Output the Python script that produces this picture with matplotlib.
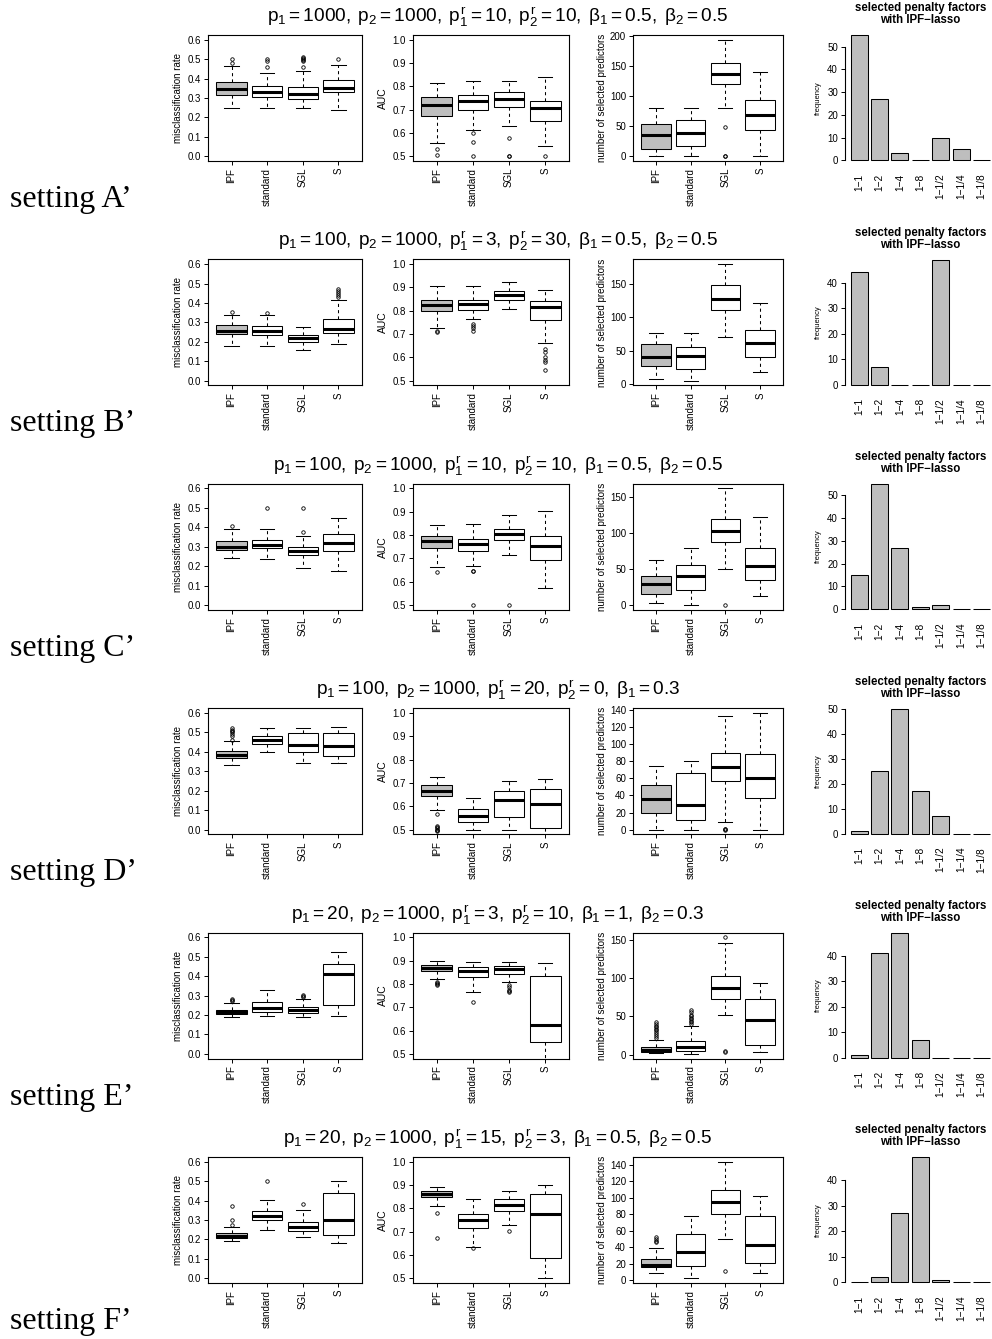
import matplotlib
matplotlib.use('Agg')
import matplotlib.pyplot as plt

plt.rcParams['font.family'] = ['Liberation Sans', 'DejaVu Sans']
plt.rcParams['mathtext.fontset'] = 'custom'
plt.rcParams['mathtext.rm'] = 'Liberation Sans'
plt.rcParams['mathtext.it'] = 'Liberation Sans'
plt.rcParams['mathtext.bf'] = 'Liberation Sans:bold'

# ---------------- data ----------------
methods = ['IPF', 'standard', 'SGL', 'S']
penalty_factors = ['1−1', '1−2', '1−4', '1−8', '1−1/2', '1−1/4', '1−1/8']
setting_names = ['A', 'B', 'C', 'D', 'E', 'F']
titles = [
    r'$p_1 = 1000,\;p_2 = 1000,\;p_1^r = 10,\;p_2^r = 10,\;\beta_1 = 0.5,\;\beta_2 = 0.5$',
    r'$p_1 = 100,\;p_2 = 1000,\;p_1^r = 3,\;p_2^r = 30,\;\beta_1 = 0.5,\;\beta_2 = 0.5$',
    r'$p_1 = 100,\;p_2 = 1000,\;p_1^r = 10,\;p_2^r = 10,\;\beta_1 = 0.5,\;\beta_2 = 0.5$',
    r'$p_1 = 100,\;p_2 = 1000,\;p_1^r = 20,\;p_2^r = 0,\;\beta_1 = 0.3$',
    r'$p_1 = 20,\;p_2 = 1000,\;p_1^r = 3,\;p_2^r = 10,\;\beta_1 = 1,\;\beta_2 = 0.3$',
    r'$p_1 = 20,\;p_2 = 1000,\;p_1^r = 15,\;p_2^r = 3,\;\beta_1 = 0.5,\;\beta_2 = 0.5$',
]

# box statistics per method: (lower whisker, Q1, median, Q3, upper whisker)
# misclassification rate
mis_A = [(0.25, 0.315, 0.345, 0.38, 0.465), (0.25, 0.305, 0.33, 0.36, 0.43),
         (0.25, 0.297, 0.32, 0.355, 0.44), (0.24, 0.33, 0.35, 0.39, 0.47)]
mis_A_out = [[0.48, 0.50], [0.46, 0.49, 0.50], [0.46, 0.49, 0.495, 0.50, 0.505, 0.51], [0.50]]
mis_B = [(0.18, 0.24, 0.255, 0.285, 0.34), (0.18, 0.235, 0.258, 0.28, 0.34),
         (0.16, 0.20, 0.218, 0.235, 0.275), (0.19, 0.245, 0.265, 0.315, 0.415)]
mis_B_out = [[0.355], [0.35], [], [0.43, 0.44, 0.45, 0.46, 0.47]]
mis_C = [(0.24, 0.283, 0.30, 0.33, 0.39), (0.238, 0.293, 0.31, 0.335, 0.39),
         (0.193, 0.258, 0.278, 0.30, 0.355), (0.175, 0.28, 0.32, 0.365, 0.45)]
mis_C_out = [[0.405], [0.50], [0.375, 0.50], []]
mis_D = [(0.333, 0.37, 0.385, 0.405, 0.455), (0.40, 0.44, 0.46, 0.48, 0.52),
         (0.34, 0.40, 0.435, 0.495, 0.52), (0.34, 0.38, 0.428, 0.495, 0.525)]
mis_D_out = [[0.46, 0.48, 0.49, 0.50, 0.505, 0.51, 0.52], [], [], []]
mis_E = [(0.19, 0.203, 0.215, 0.228, 0.26), (0.193, 0.215, 0.237, 0.265, 0.33),
         (0.188, 0.212, 0.225, 0.24, 0.28), (0.193, 0.25, 0.413, 0.465, 0.525)]
mis_E_out = [[0.27, 0.275, 0.28], [], [0.295, 0.30, 0.305], []]
mis_F = [(0.19, 0.205, 0.22, 0.235, 0.265), (0.25, 0.30, 0.32, 0.345, 0.405),
         (0.215, 0.245, 0.265, 0.29, 0.35), (0.183, 0.225, 0.30, 0.44, 0.50)]
mis_F_out = [[0.275, 0.30, 0.37], [0.50], [0.38], []]

# AUC
auc_A = [(0.558, 0.673, 0.718, 0.755, 0.815), (0.614, 0.697, 0.737, 0.763, 0.825),
         (0.632, 0.71, 0.747, 0.776, 0.825), (0.545, 0.652, 0.709, 0.737, 0.84)]
auc_A_out = [[0.53, 0.505], [0.60, 0.563, 0.50], [0.58, 0.50, 0.502], [0.50]]
auc_B = [(0.725, 0.80, 0.825, 0.845, 0.905), (0.765, 0.805, 0.83, 0.848, 0.905),
         (0.808, 0.848, 0.867, 0.885, 0.922), (0.66, 0.76, 0.815, 0.84, 0.89)]
auc_B_out = [[0.715, 0.71], [0.745, 0.735, 0.725, 0.715], [],
             [0.635, 0.625, 0.60, 0.59, 0.58, 0.545]]
auc_C = [(0.665, 0.743, 0.775, 0.798, 0.842), (0.668, 0.733, 0.762, 0.785, 0.848),
         (0.715, 0.78, 0.805, 0.828, 0.888), (0.575, 0.693, 0.752, 0.795, 0.905)]
auc_C_out = [[0.64], [0.648, 0.645, 0.50], [0.50], []]
auc_D = [(0.583, 0.643, 0.665, 0.69, 0.727), (0.50, 0.532, 0.558, 0.59, 0.637),
         (0.50, 0.553, 0.628, 0.665, 0.71), (0.46, 0.508, 0.608, 0.672, 0.718)]
auc_D_out = [[0.565, 0.515, 0.51, 0.505, 0.50, 0.497, 0.493], [], [], []]
auc_E = [(0.823, 0.857, 0.87, 0.882, 0.898), (0.767, 0.83, 0.855, 0.873, 0.892),
         (0.81, 0.843, 0.862, 0.875, 0.895), (0.45, 0.553, 0.625, 0.835, 0.89)]
auc_E_out = [[0.81, 0.805, 0.80, 0.795], [0.723], [0.795, 0.785, 0.775, 0.77, 0.765], []]
auc_F = [(0.81, 0.848, 0.862, 0.875, 0.893), (0.635, 0.717, 0.75, 0.775, 0.838),
         (0.727, 0.79, 0.815, 0.84, 0.875), (0.50, 0.588, 0.777, 0.86, 0.90)]
auc_F_out = [[0.778, 0.673], [0.628], [0.705], []]

# number of selected predictors
num_A = [(0, 13, 35, 53, 80), (0, 18, 38, 61, 80),
         (81, 121, 137, 155, 194), (0, 43, 68, 93, 140)]
num_A_out = [[], [], [49, 0, 0.5], []]
num_B = [(7, 27, 41, 60, 76), (5, 23, 42, 56, 76),
         (71, 111, 128, 148, 180), (18, 41, 61, 81, 121)]
num_B_out = [[], [], [], []]
num_C = [(3, 16, 29, 41, 63), (0, 21, 41, 56, 80),
         (50, 87, 103, 119, 162), (12, 35, 54, 79, 123)]
num_C_out = [[], [], [0], []]
num_D = [(0, 19, 36, 52, 75), (0, 11, 29, 66, 80),
         (9, 57, 73, 90, 133), (0, 37, 61, 89, 137)]
num_D_out = [[], [], [0, 0.5, 1], []]
num_E = [(2, 4, 6, 10, 19), (1, 5, 10, 18, 37),
         (52, 73, 87, 103, 145), (3, 13, 45, 73, 93)]
num_E_out = [[22, 25, 27, 30, 32, 34, 36, 38, 40, 42],
             [40, 42, 44, 46, 48, 50, 52, 55, 58], [153, 5, 3], []]
num_F = [(8, 16, 18, 26, 39), (2, 17, 34, 56, 78),
         (50, 80, 95, 109, 144), (8, 21, 42, 78, 102)]
num_F_out = [[46, 48, 50, 52], [], [11], []]
num_tick_step = [50, 50, 50, 20, 50, 20]

# selected penalty factors (frequency)
freq_A = [55, 27, 3, 0, 10, 5, 0]
freq_B = [44, 7, 0, 0, 49, 0, 0]
freq_C = [15, 55, 27, 1, 2, 0, 0]
freq_D = [1, 25, 50, 17, 7, 0, 0]
freq_E = [1, 41, 49, 7, 0, 0, 0]
freq_F = [0, 2, 27, 49, 1, 0, 0]

mis_all = [(mis_A, mis_A_out), (mis_B, mis_B_out), (mis_C, mis_C_out),
           (mis_D, mis_D_out), (mis_E, mis_E_out), (mis_F, mis_F_out)]
auc_all = [(auc_A, auc_A_out), (auc_B, auc_B_out), (auc_C, auc_C_out),
           (auc_D, auc_D_out), (auc_E, auc_E_out), (auc_F, auc_F_out)]
num_all = [(num_A, num_A_out), (num_B, num_B_out), (num_C, num_C_out),
           (num_D, num_D_out), (num_E, num_E_out), (num_F, num_F_out)]
freq_all = [freq_A, freq_B, freq_C, freq_D, freq_E, freq_F]

# ---------------- layout / style ----------------
W, H = 992, 1339
DPI = 100
GRAY = '#BEBEBE'
fills = [GRAY, 'white', 'white', 'white']
ROW = 224.4
TICK_FS = 7
LAB_FS = 7

fig = plt.figure(figsize=(W / DPI, H / DPI), dpi=DPI)


def add_ax(x0, x1, y0, y1):
    return fig.add_axes([x0 / W, 1 - y1 / H, (x1 - x0) / W, (y1 - y0) / H])


def style_axis(ax):
    ax.tick_params(axis='both', length=3, width=0.7, pad=2, labelsize=TICK_FS,
                   colors='black')
    for s in ax.spines.values():
        s.set_linewidth(0.8)


def draw_box(ax, stats, outs):
    bx = [dict(whislo=s[0], q1=s[1], med=s[2], q3=s[3], whishi=s[4], fliers=o)
          for s, o in zip(stats, outs)]
    art = ax.bxp(bx, positions=[1, 2, 3, 4], widths=0.85, capwidths=0.4,
                 patch_artist=True, showfliers=True,
                 boxprops=dict(edgecolor='black', linewidth=0.75),
                 whiskerprops=dict(color='black', linewidth=0.75, linestyle=(0, (3, 3))),
                 capprops=dict(color='black', linewidth=0.75),
                 medianprops=dict(color='black', linewidth=2.2, solid_capstyle='butt'),
                 flierprops=dict(marker='o', markersize=2.5, markerfacecolor='none',
                                 markeredgecolor='black', markeredgewidth=0.6))
    for patch, c in zip(art['boxes'], fills):
        patch.set_facecolor(c)
    ax.set_xlim(0.34, 4.66)
    ax.set_xticks([1, 2, 3, 4])
    ax.set_xticklabels(methods, rotation=90)
    style_axis(ax)


for i in range(6):
    dy = i * ROW
    # title
    fig.text(498 / W, 1 - (22 + dy) / H, titles[i], ha='center', va='baseline',
             fontsize=13.7)
    # setting label
    fig.text(10 / W, 1 - (207 + dy) / H, 'setting ' + setting_names[i] + '’',
             family='Liberation Serif', fontsize=23, va='baseline', ha='left')

    # misclassification
    ax1 = add_ax(208, 362, 35 + dy, 161 + dy)
    draw_box(ax1, *mis_all[i])
    ax1.set_ylim(-0.024, 0.624)
    yt = [0.0, 0.1, 0.2, 0.3, 0.4, 0.5, 0.6]
    ax1.set_yticks(yt)
    ax1.set_yticklabels(['%.1f' % v for v in yt])
    ax1.set_ylabel('misclassification rate', fontsize=LAB_FS, labelpad=3)

    # AUC
    ax2 = add_ax(413, 569, 35 + dy, 161 + dy)
    draw_box(ax2, *auc_all[i])
    ax2.set_ylim(0.48, 1.02)
    yt = [0.5, 0.6, 0.7, 0.8, 0.9, 1.0]
    ax2.set_yticks(yt)
    ax2.set_yticklabels(['%.1f' % v for v in yt])
    ax2.set_ylabel('AUC', fontsize=LAB_FS + 0.5, labelpad=3)

    # number of selected predictors
    ax3 = add_ax(633, 783, 35 + dy, 161 + dy)
    stats, outs = num_all[i]
    draw_box(ax3, stats, outs)
    vals = [s[0] for s in stats] + [s[4] for s in stats] + [v for o in outs for v in o]
    lo, hi = min(vals), max(vals)
    r = hi - lo
    ax3.set_ylim(lo - 0.04 * r, hi + 0.04 * r)
    step = num_tick_step[i]
    ticks = [t for t in range(0, 1000, step) if lo - 0.04 * r <= t <= hi + 0.04 * r]
    ax3.set_yticks(ticks)
    ax3.set_yticklabels([str(t) for t in ticks])
    ax3.set_ylabel('number of selected predictors', fontsize=LAB_FS, labelpad=2)

    # penalty factor barplot
    ax4 = add_ax(845, 995.5, 30.3 + dy, 165.3 + dy)
    freq = freq_all[i]
    xs = [0.7 + 1.2 * k for k in range(len(freq))]
    ax4.bar(xs, freq, width=1.0, color=GRAY, edgecolor='black', linewidth=0.75)
    M = max(freq)
    ax4.set_ylim(-0.04 * M, 1.04 * M)
    ax4.set_xlim(-0.128, 8.728)
    yt = list(range(0, M + 1, 10))
    ax4.set_yticks(yt)
    ax4.set_yticklabels([str(t) for t in yt])
    ax4.set_xticks(xs)
    ax4.set_xticklabels(penalty_factors, rotation=90, fontsize=7.3)
    for s in ['top', 'right', 'bottom']:
        ax4.spines[s].set_visible(False)
    ax4.spines['left'].set_bounds(0, yt[-1])
    ax4.spines['left'].set_linewidth(0.8)
    ax4.tick_params(axis='y', length=3, width=0.7, pad=2, labelsize=TICK_FS)
    ax4.tick_params(axis='x', length=0, pad=6)
    ax4.set_ylabel('frequency', fontsize=5.5, labelpad=4)
    ax4.set_title('selected penalty factors\nwith IPF−lasso', fontsize=8.3,
                  fontweight='bold', pad=5, linespacing=1.0)

fig.savefig('out.png', dpi=DPI)
